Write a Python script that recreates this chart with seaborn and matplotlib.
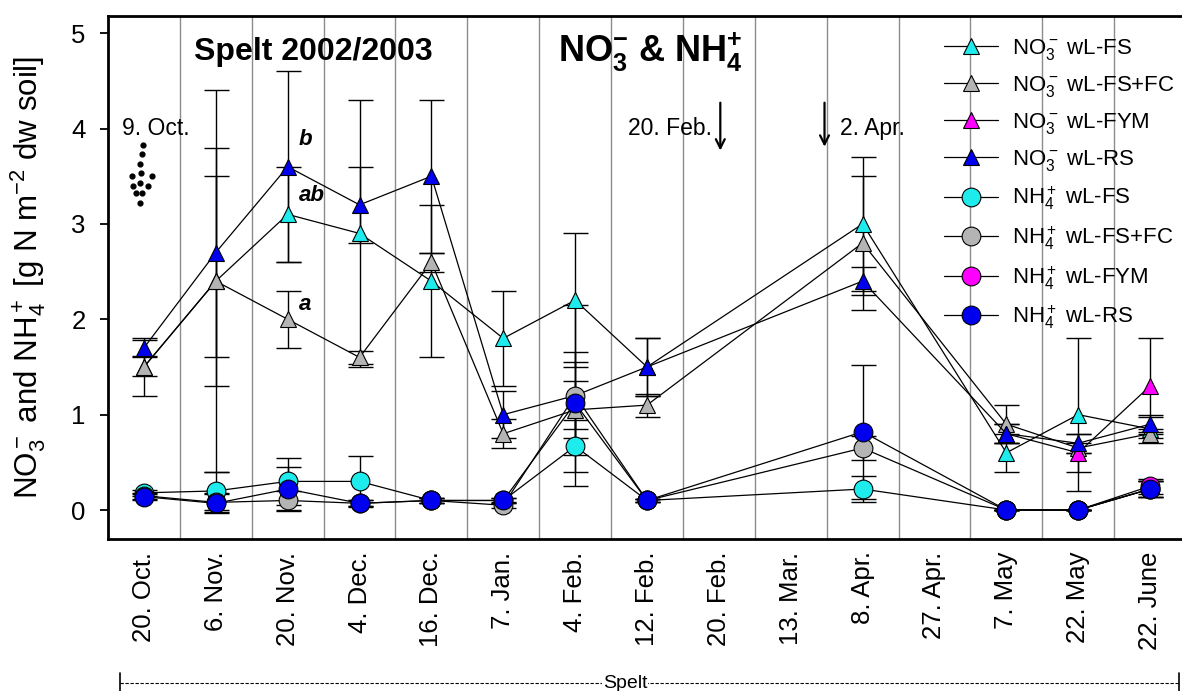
import numpy as np
import pandas as pd
import matplotlib
matplotlib.use("Agg")
import matplotlib.pyplot as plt
from matplotlib.lines import Line2D
import seaborn as sns

nan = np.nan

# Sampling dates (x categories)
dates = ["20. Oct.", "6. Nov.", "20. Nov.", "4. Dec.", "16. Dec.", "7. Jan.",
         "4. Feb.", "12. Feb.", "20. Feb.", "13. Mar.", "8. Apr.", "27. Apr.",
         "7. May", "22. May", "22. June"]

# Nitrate [g N m-2 dw soil]
no3_fs = [1.5, 2.4, 3.1, 2.9, 2.4, 1.8, 2.2, 1.5, nan, nan, 3.0, nan, 0.6, 1.0, 0.85]
no3_fs_err = [0.1, 1.1, 0.5, 1.4, 0.8, 0.5, 0.7, 0.3, nan, nan, 0.7, nan, 0.2, 0.8, 0.15]
no3_fsfc = [1.5, 2.4, 2.0, 1.6, 2.6, 0.8, 1.05, 1.1, nan, nan, 2.8, nan, 0.9, 0.65, 0.8]
no3_fsfc_err = [0.3, 2.0, 0.3, 0.07, 0.1, 0.15, 0.3, 0.12, nan, nan, 0.7, nan, 0.2, 0.05, 0.05]
no3_fym = [nan, nan, nan, nan, nan, nan, nan, nan, nan, nan, nan, nan, 0.8, 0.6, 1.3]
no3_fym_err = [nan, nan, nan, nan, nan, nan, nan, nan, nan, nan, nan, nan, 0.1, 0.2, 0.5]
no3_rs = [1.7, 2.7, 3.6, 3.2, 3.5, 1.0, 1.2, 1.5, nan, nan, 2.4, nan, 0.8, 0.7, 0.9]
no3_rs_err = [0.08, 1.1, 1.0, 0.4, 0.8, 0.25, 0.35, 0.3, nan, nan, 0.15, nan, 0.1, 0.1, 0.08]

# Ammonium [g N m-2 dw soil]
nh4_fs = [0.18, 0.2, 0.3, 0.3, 0.1, 0.1, 0.67, 0.1, nan, nan, 0.22, nan, 0.0, 0.0, 0.22]
nh4_fs_err = [0.03, 0.2, 0.25, 0.27, 0.03, 0.03, 0.27, 0.02, nan, nan, 0.14, nan, 0.0, 0.0, 0.08]
nh4_fsfc = [0.15, 0.08, 0.1, 0.07, 0.1, 0.05, 1.2, 0.1, nan, nan, 0.65, nan, 0.0, 0.0, 0.22]
nh4_fsfc_err = [0.03, 0.1, 0.1, 0.03, 0.03, 0.03, 0.95, 0.02, nan, nan, 0.13, nan, 0.0, 0.0, 0.08]
nh4_fym = [nan, nan, nan, nan, nan, nan, nan, nan, nan, nan, nan, nan, 0.0, 0.0, 0.25]
nh4_fym_err = [nan, nan, nan, nan, nan, nan, nan, nan, nan, nan, nan, nan, 0.0, 0.0, 0.08]
nh4_rs = [0.14, 0.07, 0.22, 0.07, 0.1, 0.1, 1.12, 0.1, nan, nan, 0.82, nan, 0.0, 0.0, 0.22]
nh4_rs_err = [0.03, 0.1, 0.23, 0.03, 0.03, 0.03, 0.54, 0.02, nan, nan, 0.7, nan, 0.0, 0.0, 0.08]

labels = [r"NO$_3^-$ wL-FS", r"NO$_3^-$ wL-FS+FC", r"NO$_3^-$ wL-FYM", r"NO$_3^-$ wL-RS",
          r"NH$_4^+$ wL-FS", r"NH$_4^+$ wL-FS+FC", r"NH$_4^+$ wL-FYM", r"NH$_4^+$ wL-RS"]
values = [no3_fs, no3_fsfc, no3_fym, no3_rs, nh4_fs, nh4_fsfc, nh4_fym, nh4_rs]
errors = [no3_fs_err, no3_fsfc_err, no3_fym_err, no3_rs_err,
          nh4_fs_err, nh4_fsfc_err, nh4_fym_err, nh4_rs_err]
face_colors = ["#1EEBEB", "#B4B4B4", "#FF00FF", "#0000EE"] * 2
markers = ["^"] * 4 + ["o"] * 4

# Sowing date marker (9. Oct.) drawn as a small dot cluster
sow_x = [-0.01, -0.03, -0.05, -0.17, -0.04, 0.11, -0.15, -0.06, 0.06, -0.11, -0.03, -0.06]
sow_y = [3.83, 3.73, 3.63, 3.50, 3.53, 3.50, 3.40, 3.43, 3.40, 3.32, 3.32, 3.22]

sns.set_theme(style="white")
plt.rcParams["font.family"] = ["Liberation Sans", "DejaVu Sans"]
plt.rcParams["mathtext.fontset"] = "custom"
plt.rcParams["mathtext.rm"] = "Liberation Sans"
plt.rcParams["mathtext.it"] = "Liberation Sans:italic"
plt.rcParams["mathtext.bf"] = "Liberation Sans:bold"
plt.rcParams["mathtext.default"] = "regular"
for key in ["text.color", "axes.labelcolor", "xtick.color", "ytick.color"]:
    plt.rcParams[key] = "black"

records = []
for lab, vals, errs in zip(labels, values, errors):
    for i, (v, e) in enumerate(zip(vals, errs)):
        if not np.isnan(v):
            records.append({"series": lab, "pos": i, "date": dates[i], "value": v, "err": e})
df = pd.DataFrame(records)

fig = plt.figure(figsize=(11.82, 6.91), dpi=100)
ax = fig.add_axes([108 / 1182, 1 - 539 / 691, (1186 - 108) / 1182, (539 - 16) / 691])

# Vertical separators between sampling dates
ax.set_xticks(np.arange(len(dates)) + 0.5, minor=True)
ax.grid(which="minor", axis="x", color="#8C8C8C", linewidth=1.0)
ax.grid(which="major", visible=False)
ax.set_axisbelow(True)

# Error bars first, then connecting lines and symbols
for lab in labels:
    sub = df[df["series"] == lab]
    ax.errorbar(sub["pos"], sub["value"], yerr=sub["err"], fmt="none",
                ecolor="black", elinewidth=1.0, capsize=9, capthick=1.0, zorder=2)

for lab, m, fc in zip(labels, markers, face_colors):
    sub = df[df["series"] == lab]
    sns.lineplot(data=sub, x="pos", y="value", ax=ax, color="black", linewidth=0.9,
                 marker=m, markersize=12 if m == "^" else 13.5, markerfacecolor=fc,
                 markeredgecolor="black", markeredgewidth=0.8, estimator=None,
                 errorbar=None, sort=True, zorder=3)

ax.set_xlim(-0.5, len(dates) - 0.5)
ax.set_ylim(-0.304, 5.18)
ax.set_xticks(np.arange(len(dates)))
ax.set_xticklabels(dates, rotation=90, fontsize=18.5)
ax.set_yticks(range(0, 6))
ax.set_yticklabels([str(v) for v in range(0, 6)], fontsize=18.5)
ax.tick_params(axis="y", which="major", direction="out", length=6, width=1.3,
               color="black", pad=10, left=True)
ax.tick_params(axis="x", which="both", length=0, pad=9)
ax.set_xlabel("")
ax.set_ylabel(r"NO$_3^-$ and NH$_4^+$ [g N m$^{-2}$ dw soil]", fontsize=22.5)
ax.yaxis.set_label_coords(-0.056, 0.5)

for s in ax.spines.values():
    s.set_color("black")
    s.set_linewidth(2.0)

# Titles and annotations
ax.text(2.35, 4.8, "Spelt 2002/2003", fontsize=23, fontweight="bold",
        ha="center", va="center")
ax.text(7.05, 4.8,
        r"$\mathbf{NO}_{\mathbf{3}}^{\mathbf{-}}$ & $\mathbf{NH}_{\mathbf{4}}^{\mathbf{+}}$",
        fontsize=26, fontweight="bold", ha="center", va="center")
ax.text(-0.31, 4.0, "9. Oct.", fontsize=16.5, ha="left", va="center")
ax.scatter(sow_x, sow_y, s=12, color="black", zorder=4)

ax.text(7.9, 4.0, "20. Feb.", fontsize=16.5, ha="right", va="center")
ax.annotate("", xy=(8.02, 3.74), xytext=(8.02, 4.3),
            arrowprops=dict(arrowstyle="->", lw=1.6, color="black", mutation_scale=16))
ax.text(9.68, 4.0, "2. Apr.", fontsize=16.5, ha="left", va="center")
ax.annotate("", xy=(9.47, 3.78), xytext=(9.47, 4.3),
            arrowprops=dict(arrowstyle="->", lw=1.6, color="black", mutation_scale=16))

ax.text(2.15, 3.88, "b", fontsize=16, fontweight="bold", style="italic", ha="left", va="center")
ax.text(2.15, 3.3, "ab", fontsize=16, fontweight="bold", style="italic", ha="left", va="center")
ax.text(2.15, 2.16, "a", fontsize=16, fontweight="bold", style="italic", ha="left", va="center")

# Legend
handles = [Line2D([], [], color="black", linewidth=0.9, marker=m,
                  markersize=12 if m == "^" else 13.5, markerfacecolor=fc,
                  markeredgecolor="black", markeredgewidth=0.8)
           for m, fc in zip(markers, face_colors)]
leg = ax.legend(handles, labels, loc="upper left", bbox_to_anchor=(944 / 1182, 1 - 37 / 691),
                bbox_transform=fig.transFigure, frameon=False, fontsize=16,
                handlelength=2.45, handletextpad=0.6, labelspacing=0.54, borderpad=0,
                borderaxespad=0)

# Crop bracket below the date axis
y_br = 1 - 683 / 691
fig.add_artist(Line2D([120 / 1182, 1179 / 1182], [y_br, y_br], transform=fig.transFigure,
                      color="black", linewidth=0.8, linestyle=(0, (3, 1.5))))
for xb in [120 / 1182, 1179 / 1182]:
    fig.add_artist(Line2D([xb, xb], [y_br - 0.012, y_br + 0.014],
                          transform=fig.transFigure, color="black", linewidth=1.2))
fig.text(625 / 1182, y_br, "Spelt", fontsize=14, ha="center", va="center",
         bbox=dict(facecolor="white", edgecolor="none", pad=0.5))

fig.savefig("out.png", dpi=100)
